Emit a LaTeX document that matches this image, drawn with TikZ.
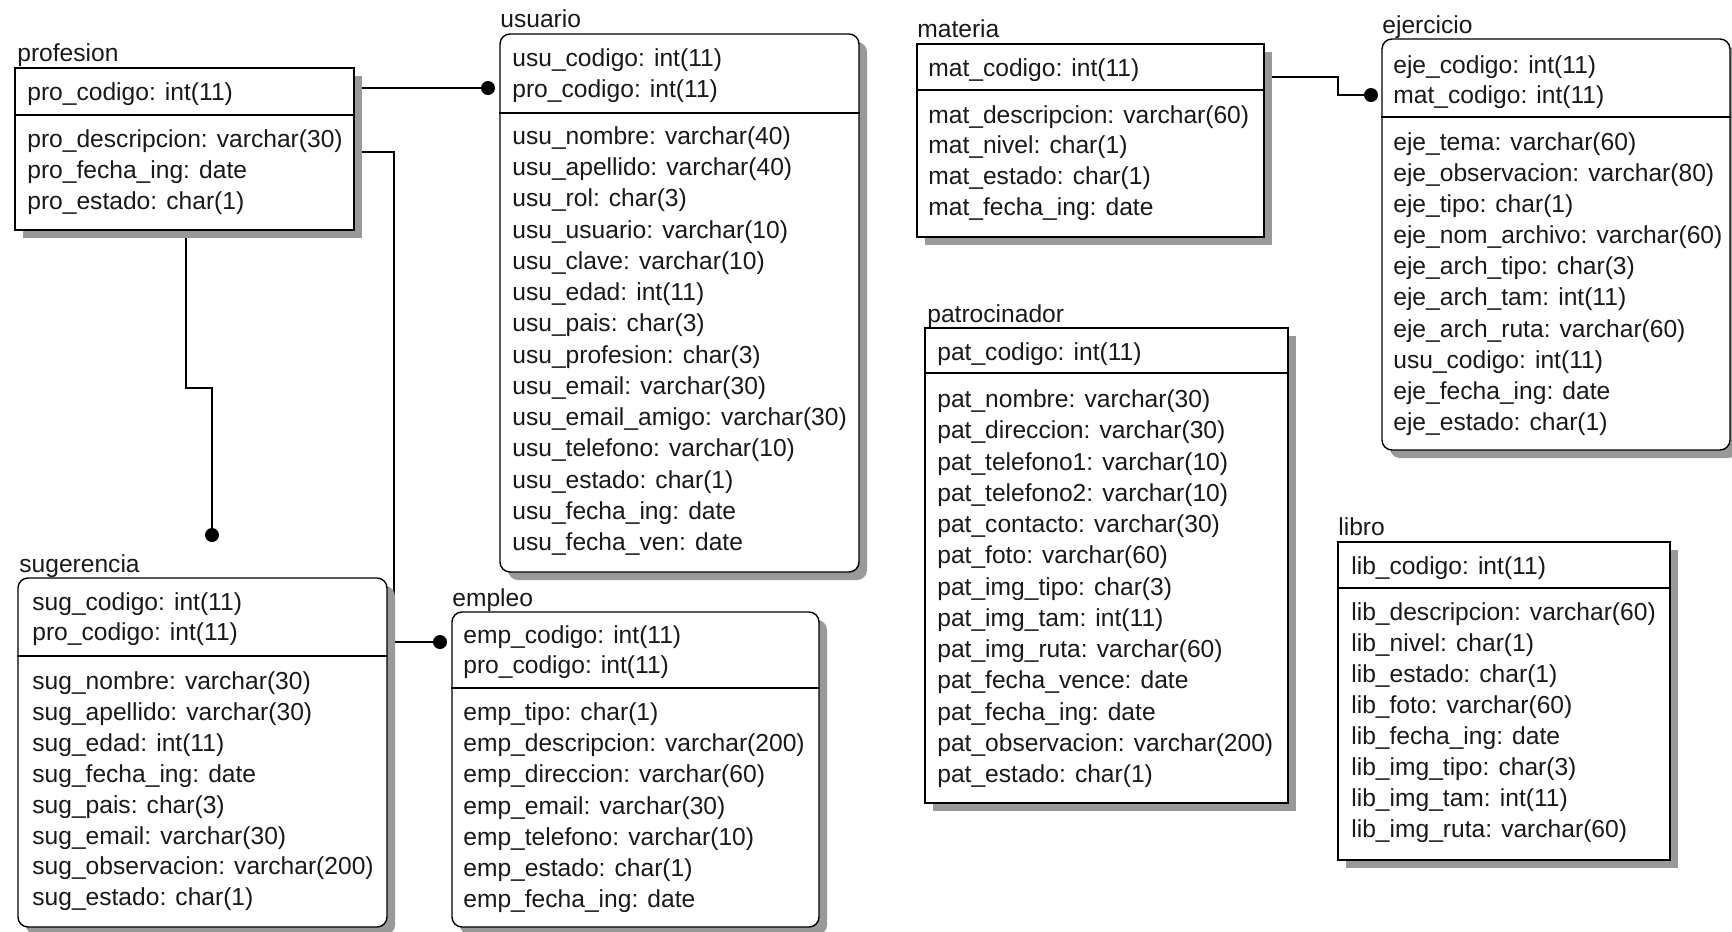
\documentclass[tikz,border=0pt]{standalone}
\usepackage{fontspec}
\setmainfont{Liberation Sans}
\usepackage{tikz}
\usetikzlibrary{fit,shadows}
\pgfdeclarelayer{edgelayer}
\pgfdeclarelayer{nodelayer}
\pgfsetlayers{edgelayer,nodelayer,main}
\tikzstyle{edge}=[draw=black, line width=0.7pt]
\tikzstyle{entity}=[draw=black, line width=0.8pt, fill=white, inner sep=0pt, drop shadow={shadow xshift=0.16cm, shadow yshift=-0.16cm, fill=black!40, opacity=1}]
\tikzstyle{entityround}=[entity, rounded corners=0.2cm]
\tikzstyle{attr}=[anchor=base west, inner sep=0pt, font=\fontsize{14}{16}\selectfont, text=black!90]
\tikzstyle{entname}=[attr]
\tikzstyle{sepline}=[draw=black, line width=0.8pt]
\tikzstyle{fkdot}=[circle, fill=black, inner sep=0pt, minimum size=0.28cm]

\begin{document}
\begin{tikzpicture}[x=0.02cm, y=-0.02cm]
\useasboundingbox ( 0 , 0 ) rectangle ( 1732 , 931 );
\begin{pgfonlayer}{nodelayer}
% profesion
\node[entname] (t-profesion) at ( 17 , 61 ) {profesion};
\node[entity, fit={( 15 , 68 ) ( 354 , 230 )}] (profesion) {};
\draw[sepline] (profesion.west |- 0,115) -- (profesion.east |- 0,115);
\node[attr] (pro1) at ( 27 , 100 ) {pro\_codigo: int(11)};
\node[attr] (pro2) at ( 27 , 147 ) {pro\_descripcion: varchar(30)};
\node[attr] (pro3) at ( 27 , 178 ) {pro\_fecha\_ing: date};
\node[attr] (pro4) at ( 27 , 209 ) {pro\_estado: char(1)};
% usuario
\node[entname] (t-usuario) at ( 500 , 27 ) {usuario};
\node[entityround, fit={( 500 , 34 ) ( 859 , 572 )}] (usuario) {};
\draw[sepline] (usuario.west |- 0,113) -- (usuario.east |- 0,113);
\node[attr] (usu1) at ( 512 , 66 ) {usu\_codigo: int(11)};
\node[attr] (usu2) at ( 512 , 97 ) {pro\_codigo: int(11)};
\node[attr] (usu3) at ( 512 , 144 ) {usu\_nombre: varchar(40)};
\node[attr] (usu4) at ( 512 , 175 ) {usu\_apellido: varchar(40)};
\node[attr] (usu5) at ( 512 , 206 ) {usu\_rol: char(3)};
\node[attr] (usu6) at ( 512 , 238 ) {usu\_usuario: varchar(10)};
\node[attr] (usu7) at ( 512 , 269 ) {usu\_clave: varchar(10)};
\node[attr] (usu8) at ( 512 , 300 ) {usu\_edad: int(11)};
\node[attr] (usu9) at ( 512 , 331 ) {usu\_pais: char(3)};
\node[attr] (usu10) at ( 512 , 363 ) {usu\_profesion: char(3)};
\node[attr] (usu11) at ( 512 , 394 ) {usu\_email: varchar(30)};
\node[attr] (usu12) at ( 512 , 425 ) {usu\_email\_amigo: varchar(30)};
\node[attr] (usu13) at ( 512 , 456 ) {usu\_telefono: varchar(10)};
\node[attr] (usu14) at ( 512 , 488 ) {usu\_estado: char(1)};
\node[attr] (usu15) at ( 512 , 519 ) {usu\_fecha\_ing: date};
\node[attr] (usu16) at ( 512 , 550 ) {usu\_fecha\_ven: date};
% materia
\node[entname] (t-materia) at ( 917 , 37 ) {materia};
\node[entity, fit={( 917 , 44 ) ( 1264 , 237 )}] (materia) {};
\draw[sepline] (materia.west |- 0,90) -- (materia.east |- 0,90);
\node[attr] (mat1) at ( 928 , 76 ) {mat\_codigo: int(11)};
\node[attr] (mat2) at ( 928 , 123 ) {mat\_descripcion: varchar(60)};
\node[attr] (mat3) at ( 928 , 153 ) {mat\_nivel: char(1)};
\node[attr] (mat4) at ( 928 , 184 ) {mat\_estado: char(1)};
\node[attr] (mat5) at ( 928 , 215 ) {mat\_fecha\_ing: date};
% ejercicio
\node[entname] (t-ejercicio) at ( 1382 , 33 ) {ejercicio};
\node[entityround, fit={( 1382 , 39 ) ( 1730 , 450 )}] (ejercicio) {};
\draw[sepline] (ejercicio.west |- 0,117) -- (ejercicio.east |- 0,117);
\node[attr] (eje1) at ( 1393 , 73 ) {eje\_codigo: int(11)};
\node[attr] (eje2) at ( 1393 , 103 ) {mat\_codigo: int(11)};
\node[attr] (eje3) at ( 1393 , 150 ) {eje\_tema: varchar(60)};
\node[attr] (eje4) at ( 1393 , 181 ) {eje\_observacion: varchar(80)};
\node[attr] (eje5) at ( 1393 , 212 ) {eje\_tipo: char(1)};
\node[attr] (eje6) at ( 1393 , 243 ) {eje\_nom\_archivo: varchar(60)};
\node[attr] (eje7) at ( 1393 , 274 ) {eje\_arch\_tipo: char(3)};
\node[attr] (eje8) at ( 1393 , 305 ) {eje\_arch\_tam: int(11)};
\node[attr] (eje9) at ( 1393 , 337 ) {eje\_arch\_ruta: varchar(60)};
\node[attr] (eje10) at ( 1393 , 368 ) {usu\_codigo: int(11)};
\node[attr] (eje11) at ( 1393 , 399 ) {eje\_fecha\_ing: date};
\node[attr] (eje12) at ( 1393 , 430 ) {eje\_estado: char(1)};
% sugerencia
\node[entname] (t-sugerencia) at ( 19 , 572 ) {sugerencia};
\node[entityround, fit={( 18 , 578 ) ( 387 , 927 )}] (sugerencia) {};
\draw[sepline] (sugerencia.west |- 0,656) -- (sugerencia.east |- 0,656);
\node[attr] (sug1) at ( 32 , 610 ) {sug\_codigo: int(11)};
\node[attr] (sug2) at ( 32 , 640 ) {pro\_codigo: int(11)};
\node[attr] (sug3) at ( 32 , 689 ) {sug\_nombre: varchar(30)};
\node[attr] (sug4) at ( 32 , 720 ) {sug\_apellido: varchar(30)};
\node[attr] (sug5) at ( 32 , 751 ) {sug\_edad: int(11)};
\node[attr] (sug6) at ( 32 , 782 ) {sug\_fecha\_ing: date};
\node[attr] (sug7) at ( 32 , 813 ) {sug\_pais: char(3)};
\node[attr] (sug8) at ( 32 , 844 ) {sug\_email: varchar(30)};
\node[attr] (sug9) at ( 32 , 874 ) {sug\_observacion: varchar(200)};
\node[attr] (sug10) at ( 32 , 905 ) {sug\_estado: char(1)};
% empleo
\node[entname] (t-empleo) at ( 452 , 606 ) {empleo};
\node[entityround, fit={( 452 , 612 ) ( 819 , 927 )}] (empleo) {};
\draw[sepline] (empleo.west |- 0,688) -- (empleo.east |- 0,688);
\node[attr] (emp1) at ( 463 , 643 ) {emp\_codigo: int(11)};
\node[attr] (emp2) at ( 463 , 673 ) {pro\_codigo: int(11)};
\node[attr] (emp3) at ( 463 , 720 ) {emp\_tipo: char(1)};
\node[attr] (emp4) at ( 463 , 751 ) {emp\_descripcion: varchar(200)};
\node[attr] (emp5) at ( 463 , 782 ) {emp\_direccion: varchar(60)};
\node[attr] (emp6) at ( 463 , 814 ) {emp\_email: varchar(30)};
\node[attr] (emp7) at ( 463 , 845 ) {emp\_telefono: varchar(10)};
\node[attr] (emp8) at ( 463 , 876 ) {emp\_estado: char(1)};
\node[attr] (emp9) at ( 463 , 907 ) {emp\_fecha\_ing: date};
% patrocinador
\node[entname] (t-patrocinador) at ( 927 , 322 ) {patrocinador};
\node[entity, fit={( 925 , 328 ) ( 1288 , 803 )}] (patrocinador) {};
\draw[sepline] (patrocinador.west |- 0,373) -- (patrocinador.east |- 0,373);
\node[attr] (pat1) at ( 937 , 360 ) {pat\_codigo: int(11)};
\node[attr] (pat2) at ( 937 , 407 ) {pat\_nombre: varchar(30)};
\node[attr] (pat3) at ( 937 , 438 ) {pat\_direccion: varchar(30)};
\node[attr] (pat4) at ( 937 , 470 ) {pat\_telefono1: varchar(10)};
\node[attr] (pat5) at ( 937 , 501 ) {pat\_telefono2: varchar(10)};
\node[attr] (pat6) at ( 937 , 532 ) {pat\_contacto: varchar(30)};
\node[attr] (pat7) at ( 937 , 563 ) {pat\_foto: varchar(60)};
\node[attr] (pat8) at ( 937 , 595 ) {pat\_img\_tipo: char(3)};
\node[attr] (pat9) at ( 937 , 626 ) {pat\_img\_tam: int(11)};
\node[attr] (pat10) at ( 937 , 657 ) {pat\_img\_ruta: varchar(60)};
\node[attr] (pat11) at ( 937 , 688 ) {pat\_fecha\_vence: date};
\node[attr] (pat12) at ( 937 , 720 ) {pat\_fecha\_ing: date};
\node[attr] (pat13) at ( 937 , 751 ) {pat\_observacion: varchar(200)};
\node[attr] (pat14) at ( 937 , 782 ) {pat\_estado: char(1)};
% libro
\node[entname] (t-libro) at ( 1338 , 535 ) {libro};
\node[entity, fit={( 1338 , 542 ) ( 1670 , 860 )}] (libro) {};
\draw[sepline] (libro.west |- 0,588) -- (libro.east |- 0,588);
\node[attr] (lib1) at ( 1351 , 574 ) {lib\_codigo: int(11)};
\node[attr] (lib2) at ( 1351 , 620 ) {lib\_descripcion: varchar(60)};
\node[attr] (lib3) at ( 1351 , 651 ) {lib\_nivel: char(1)};
\node[attr] (lib4) at ( 1351 , 682 ) {lib\_estado: char(1)};
\node[attr] (lib5) at ( 1351 , 713 ) {lib\_foto: varchar(60)};
\node[attr] (lib6) at ( 1351 , 744 ) {lib\_fecha\_ing: date};
\node[attr] (lib7) at ( 1351 , 775 ) {lib\_img\_tipo: char(3)};
\node[attr] (lib8) at ( 1351 , 806 ) {lib\_img\_tam: int(11)};
\node[attr] (lib9) at ( 1351 , 837 ) {lib\_img\_ruta: varchar(60)};
\end{pgfonlayer}
% foreign key ends
\node[fkdot] (fk-usu) at ( 488 , 88 ) {};
\node[fkdot] (fk-emp) at ( 440 , 642 ) {};
\node[fkdot] (fk-sug) at ( 212 , 535 ) {};
\node[fkdot] (fk-eje) at ( 1371 , 95 ) {};
\coordinate (pk-pro1) at ( 354 , 88 );
\coordinate (pk-pro2) at ( 354 , 152 );
\coordinate (pk-pro3) at ( 186 , 230 );
\coordinate (pk-mat) at ( 1264 , 77 );
\begin{pgfonlayer}{edgelayer}
\draw[edge] (pk-pro1) -- (fk-usu);
\draw[edge] (pk-pro2) -- ++( 40 , 0 ) |- (fk-emp);
\draw[edge] (pk-pro3) -- ++( 0 , 158 ) -| (fk-sug);
\draw[edge] (pk-mat) -- ++( 74 , 0 ) |- (fk-eje);
\end{pgfonlayer}
\end{tikzpicture}
\end{document}
